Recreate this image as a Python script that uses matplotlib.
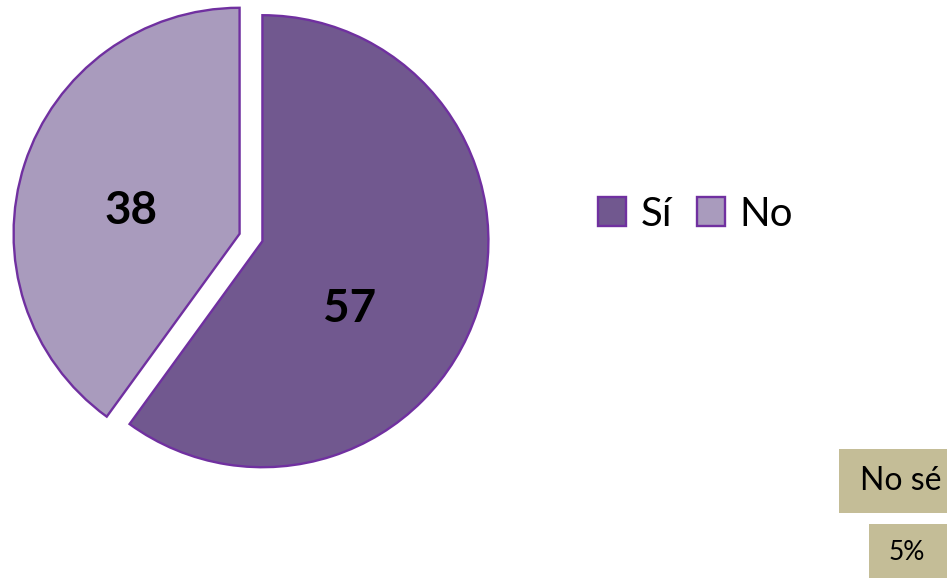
import numpy as np
import matplotlib.pyplot as plt
from matplotlib.patches import Rectangle

# datos
categorias = ['Sí', 'No']
valores = [57, 38]
colores = ['#71588F', '#A99BBD']
borde = '#7030A0'
caja_titulo = 'No sé'
caja_valor = '5%'

plt.rcParams['font.family'] = ['Lato', 'DejaVu Sans']

fig = plt.figure(figsize=(9.47, 5.78), dpi=100)
ax = fig.add_axes([0, 0, 1, 1])

# pastel (coordenadas en pixeles de la figura)
wedges, _ = ax.pie(valores, colors=colores, startangle=90, counterclock=False,
                   explode=[12, 12], radius=226, center=(251, 340.5),
                   wedgeprops=dict(edgecolor=borde, linewidth=1.7),
                   frame=True)
ax.set_xlim(0, 947)
ax.set_ylim(0, 578)
ax.set_aspect('equal')
ax.axis('off')

# etiquetas dentro de cada sector
ang_etiqueta = [-38, 168]
for w, v, a in zip(wedges, valores, ang_etiqueta):
    cx, cy = w.center
    d = 0.49 * w.r
    ax.text(cx + d * np.cos(np.radians(a)), cy + d * np.sin(np.radians(a)), str(v),
            ha='center', va='center', fontsize=33, fontweight='bold', color='black')

# leyenda
leg = fig.legend(wedges, categorias, loc='center left',
                 bbox_to_anchor=(598 / 947, 1 - 214 / 578), ncol=2, frameon=False,
                 fontsize=29, handlelength=0.7, handleheight=0.7,
                 handletextpad=0.35, columnspacing=0.62, borderpad=0, borderaxespad=0)

# cajas abajo a la derecha
ax.add_patch(Rectangle((839, 578 - 513), 108, 64, facecolor='#C4BD97', edgecolor='none'))
ax.text(901, 578 - 481, caja_titulo, ha='center', va='center', fontsize=23)
ax.add_patch(Rectangle((869, 0), 78, 54, facecolor='#C4BD97', edgecolor='none'))
ax.text(907, 578 - 552, caja_valor, ha='center', va='center', fontsize=19)

fig.savefig('out.png', dpi=100)
